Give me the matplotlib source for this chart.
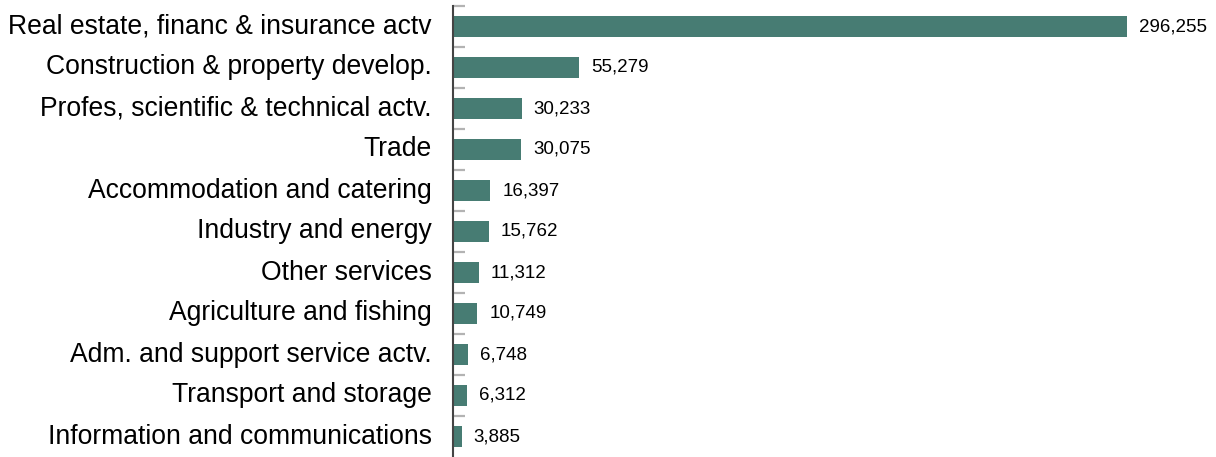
import matplotlib
matplotlib.use("Agg")
import matplotlib.pyplot as plt

categories = [
    "Real estate, financ & insurance actv",
    "Construction & property develop.",
    "Profes, scientific & technical actv.",
    "Trade",
    "Accommodation and catering",
    "Industry and energy",
    "Other services",
    "Agriculture and fishing",
    "Adm. and support service actv.",
    "Transport and storage",
    "Information and communications",
]
values = [296255, 55279, 30233, 30075, 16397, 15762, 11312, 10749, 6748, 6312, 3885]

plt.rcParams['font.family'] = ['Liberation Sans', 'DejaVu Sans']

W, H = 1216, 457
fig = plt.figure(figsize=(W / 100, H / 100), dpi=100)
ax = fig.add_axes([453 / W, 0, 1 - 453 / W, (457 - 6) / H])

n = len(categories)
y = list(range(n))
ax.barh(y, values, height=0.53, color="#477c73")
ax.set_ylim(n - 0.5, -0.5)
ax.set_xlim(0, 296255 * (W - 453) / 674)

for yi, v in zip(y, values):
    ax.text(v + 296255 * 12 / 674, yi, f"{v:,}", va="center", ha="left",
            fontsize=13.5, color="#000000")

for yi, c in zip(y, categories):
    ax.text(-21 / (W - 453), yi, c, transform=ax.get_yaxis_transform(),
            ha="right", va="center", fontsize=19.1, color="#000000")

ax.set_yticks([k - 0.5 for k in range(n)])
ax.set_yticklabels([])
ax.tick_params(axis="y", direction="in", length=8.5, width=1.6, color="#b3b3b3")
ax.set_xticks([])
for s in ["top", "right", "bottom"]:
    ax.spines[s].set_visible(False)
ax.spines["left"].set_color("#444444")
ax.spines["left"].set_linewidth(1.5)

fig.savefig("out.png", dpi=100)
